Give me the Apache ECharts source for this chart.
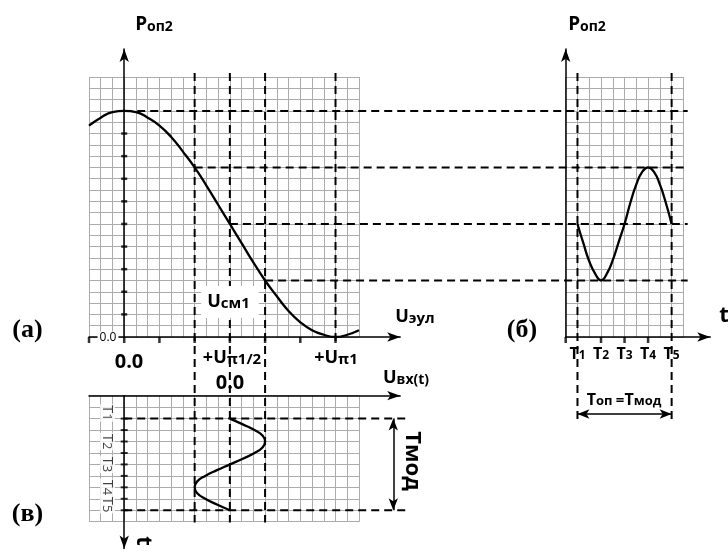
<!DOCTYPE html>
<html><head><meta charset="utf-8">
<script src="https://cdn.jsdelivr.net/npm/echarts@6/dist/echarts.min.js"></script>
<style>html,body{margin:0;padding:0;background:#fff}#c{width:728px;height:556px}</style>
</head><body><div id="c"></div>
<script>
// ---------------- data (in grid-cell units) ----------------
// (а) transfer characteristic Роп2(Uэул)
const uTransfer = [-3,-2,-1,0,1,2,3,4,5,6,7,8,9,10,11,12,13,14,15,16,17,18,19,20];
const pTransfer = [18.7,19.4,19.9,20,19.9,19.4,18.7,17.7,16.4,15,13.4,11.7,10,8.3,6.6,5,3.6,2.3,1.3,0.6,0.2,0,0.2,0.6];
// (б) output optical power vs time
const tOutput = [1,1.5,2,2.5,3,3.5,4,4.5,5,5.5,6,6.5,7,7.5,8,8.5,9];
const pOutput = [10,8.3,6.7,5.6,5,5.6,6.8,8.4,10,11.9,13.5,14.6,15,14.6,13.5,11.9,10];
// (в) input modulating voltage vs time
const tInput = [2,2.5,3,3.5,4,4.5,5,5.5,6,6.5,7,7.5,8,8.5,9,9.5,10];
const uInput = [9,10.1,11.1,11.8,12,11.8,11.1,10.1,9,7.9,6.9,6.2,6,6.2,6.9,7.9,9];
// projection levels
const pLevels = [20, 15, 10, 5];
const pLevelStartU = [0, 6, 9, 12];
const uLevels = [6, 9, 12];
const uPi = 18;
// ticks & labels
const yTicksA = [2,4,6,8,10,12,14,16,18];
const xTicksA = [-3,0,3,6,9,12,15,18];
const tTimesB = [1,3,5,7,9];
const tTicksB = [0,3,5,7];
const tLabels = ['T1','T2','T3','T4','T5'];
const tTicksV = [2,3,4,5,6,7,8,9,10];
const tEdgesV = [2,10];
const tLabelPosV = [1.5,4,6,8,9.5];

// ---------------- layout ----------------
const FONT = "'Open Sans','DejaVu Sans',sans-serif";
const SERIF = "'Liberation Serif','DejaVu Serif',serif";
const GRIDC = '#ababab';
const CW = 270/23, CH = 260/23, CWB = 117.7/10, CHV = 126/11;
const A_TOPMAX = 25.48, A_RIGHTMAX = 23.51, B_RIGHTMAX = 12.28, V_BOTMAX = 13.34;
const FAR_U = 48, FAR_P = -16.5;
const DASH_TOP = 23.36, DASH_BOT_A = -16.42, DASH_BOT_PI = -0.8;
const DASH_BOT_B = -7.7, DASH_RIGHT_V = 24.17, ARROW_U_V = 22.92, ARROW_P_B = -6.81;

const DASH = {color:'#000', width:2, type:[8,5]};
const AXL = {color:'#000', width:1.5};

function cellAxis(gi, min, max, inverse){
  return {type:'value', gridIndex:gi, min, max, interval:1, inverse:!!inverse,
    axisLine:{show:false}, axisTick:{show:false}, axisLabel:{show:false},
    splitLine:{show:true, lineStyle:{color:GRIDC, width:1}}};
}
function arrowAxis(gi, min, max, inverse, extra){
  return Object.assign({type:'value', gridIndex:gi, min, max, inverse:!!inverse,
    axisLine:{show:true, onZero:true, symbol:inverse ? ['arrow','none'] : ['none','arrow'], symbolSize:[7,13], lineStyle:AXL},
    axisTick:{show:false}, axisLabel:{show:false}, splitLine:{show:false}}, extra||{});
}
function hiddenAxis(gi, min, max, inverse){ return {type:'value', gridIndex:gi, min, max, inverse:!!inverse, show:false, splitLine:{show:false}}; }

const grids = [
  {left:89, top:77, width:270, height:260},                                               //0 (а) cells
  {left:89, top:337-A_TOPMAX*CH, width:(A_RIGHTMAX+3)*CW, height:A_TOPMAX*CH},           //1 (а) axes
  {left:565.7, top:77, width:117.7, height:260},                                          //2 (б) cells
  {left:565.7, top:337-A_TOPMAX*CH, width:B_RIGHTMAX*CWB, height:A_TOPMAX*CH},            //3 (б) axes
  {left:565.7, top:337-A_TOPMAX*CH, width:B_RIGHTMAX*CWB, height:(A_TOPMAX+8)*CH},        //4 (б) overlay
  {left:89, top:395.7, width:270, height:126},                                            //5 (в) cells
  {left:89, top:395.7, width:(A_RIGHTMAX+3)*CW, height:V_BOTMAX*CHV},                     //6 (в) axes
  {left:89, top:337-A_TOPMAX*CH, width:(FAR_U+3)*CW, height:(A_TOPMAX-FAR_P)*CH},         //7 (а) projection overlay
  {left:89, top:395.7, width:(FAR_U+3)*CW, height:V_BOTMAX*CHV}                           //8 (в) overlay
];

const xAxes = [
  cellAxis(0, -3, 20),
  arrowAxis(1, -3, A_RIGHTMAX),
  cellAxis(2, 0, 10),
  arrowAxis(3, 0, B_RIGHTMAX, false, {interval:1, axisLabel:{show:true, margin:9, color:'#000',
    fontFamily:FONT, fontWeight:'bold', fontSize:16,
    formatter: v => { const i = tTimesB.indexOf(v); return i>=0 ? '{m|'+tLabels[i][0]+'}{s|'+tLabels[i].slice(1)+'}' : ''; },
    rich:{m:{fontSize:16, fontWeight:'bold', fontFamily:FONT, color:'#000', verticalAlign:'bottom', lineHeight:16},
          s:{fontSize:12, fontWeight:'bold', fontFamily:FONT, color:'#000', verticalAlign:'bottom', lineHeight:16}}}}),
  hiddenAxis(4, 0, B_RIGHTMAX),
  cellAxis(5, -3, 20),
  arrowAxis(6, -3, A_RIGHTMAX),
  hiddenAxis(7, -3, FAR_U),
  hiddenAxis(8, -3, FAR_U)
];
const yAxes = [
  cellAxis(0, 0, 23),
  arrowAxis(1, 0, A_TOPMAX),
  cellAxis(2, 0, 23),
  arrowAxis(3, 0, A_TOPMAX),
  hiddenAxis(4, -8, A_TOPMAX),
  cellAxis(5, 0, 11, true),
  arrowAxis(6, 0, V_BOTMAX, true),
  hiddenAxis(7, FAR_P, A_TOPMAX),
  hiddenAxis(8, 0, V_BOTMAX, true)
];

const base = {type:'line', showSymbol:false, clip:false, silent:true, animation:false};
const series = [];
// (а) curve
series.push(Object.assign({}, base, {xAxisIndex:1, yAxisIndex:1, smooth:true, z:5,
  lineStyle:{color:'#000', width:2.3}, data:uTransfer.map((u,i)=>[u,pTransfer[i]])}));
// (а) horizontal projections to (б)
pLevels.forEach((p,i)=>series.push(Object.assign({}, base, {xAxisIndex:7, yAxisIndex:7, lineStyle:DASH,
  data:[[pLevelStartU[i], p],[FAR_U, p]]})));
// (а)/(в) vertical projections
uLevels.forEach(u=>series.push(Object.assign({}, base, {xAxisIndex:7, yAxisIndex:7, lineStyle:DASH,
  data:[[u, DASH_TOP],[u, DASH_BOT_A]]})));
series.push(Object.assign({}, base, {xAxisIndex:7, yAxisIndex:7, lineStyle:DASH, data:[[uPi, DASH_TOP],[uPi, DASH_BOT_PI]]}));
// (а) ticks
series.push({type:'scatter', xAxisIndex:1, yAxisIndex:1, symbol:'rect', symbolSize:[6,2.5], silent:true, clip:false,
  itemStyle:{color:'#000'}, data:yTicksA.map(p=>[0,p]), z:6});
series.push({type:'scatter', xAxisIndex:1, yAxisIndex:1, symbol:'rect', symbolSize:[2.5,6], symbolOffset:[0,3], silent:true, clip:false,
  itemStyle:{color:'#000'}, data:xTicksA.map(u=>[u,0]), z:6});
// (б) curve
series.push(Object.assign({}, base, {xAxisIndex:3, yAxisIndex:3, smooth:true, z:5,
  lineStyle:{color:'#000', width:2.3}, data:tOutput.map((t,i)=>[t,pOutput[i]])}));
// (б) vertical dashes at T1 and T5 + period arrow
[tTimesB[0], tTimesB[4]].forEach((t,k)=>series.push(Object.assign({}, base, {xAxisIndex:4, yAxisIndex:4, lineStyle:DASH,
  data:[[t, DASH_TOP],[t, DASH_BOT_B]],
  markLine: k===0 ? {silent:true, symbol:['arrow','arrow'], symbolSize:[7,12], label:{show:false},
    lineStyle:{color:'#000', width:1.5, type:'solid'}, data:[[{coord:[tTimesB[0], ARROW_P_B]},{coord:[tTimesB[4], ARROW_P_B]}]]} : undefined})));
series.push({type:'scatter', xAxisIndex:3, yAxisIndex:3, symbol:'rect', symbolSize:[2.5,6], symbolOffset:[0,3], silent:true, clip:false,
  itemStyle:{color:'#000'}, data:tTicksB.map(t=>[t,0]), z:6});
// (в) curve
series.push(Object.assign({}, base, {xAxisIndex:6, yAxisIndex:6, smooth:true, z:5,
  lineStyle:{color:'#000', width:2.3}, data:tInput.map((t,i)=>[uInput[i],t])}));
// (в) horizontal dashes at T1, T5 + Tмод arrow
tEdgesV.forEach((t,k)=>series.push(Object.assign({}, base, {xAxisIndex:8, yAxisIndex:8, lineStyle:DASH,
  data:[[0,t],[DASH_RIGHT_V,t]],
  markLine: k===0 ? {silent:true, symbol:['arrow','arrow'], symbolSize:[7,12], label:{show:false},
    lineStyle:{color:'#000', width:1.5, type:'solid'}, data:[[{coord:[ARROW_U_V, tEdgesV[0]]},{coord:[ARROW_U_V, tEdgesV[1]]}]]} : undefined})));
series.push({type:'scatter', xAxisIndex:6, yAxisIndex:6, symbol:'rect', symbolSize:[7,2], silent:true, clip:false,
  itemStyle:{color:'#000'}, data:tTicksV.map(t=>[0,t]), z:6});
// (в) rotated T labels
series.push({type:'scatter', xAxisIndex:6, yAxisIndex:6, symbolSize:0, silent:true, clip:false, z:7,
  data:tLabelPosV.map((t,i)=>({value:[-1.42,t], name:tLabels[i]})),
  label:{show:true, position:'inside', rotate:-90, backgroundColor:'#fff', padding:[0,1],
    formatter: p => '{m|'+p.name[0]+'}{s|'+p.name.slice(1)+'}',
    rich:{m:{fontSize:15, fontFamily:FONT, fontWeight:500, color:'#111', verticalAlign:'bottom', lineHeight:15},
          s:{fontSize:13, fontFamily:FONT, fontWeight:500, color:'#111', verticalAlign:'bottom', lineHeight:15}}}});

// ---------------- texts ----------------
function rt(big, small){ return {a:{fontSize:big, fontWeight:'bold', fontFamily:FONT, fill:'#000', verticalAlign:'bottom', lineHeight:big},
                                  b:{fontSize:small, fontWeight:'bold', fontFamily:FONT, fill:'#000', verticalAlign:'bottom', lineHeight:small},
                                  c:{fontSize:small+2, fontWeight:'bold', fontFamily:FONT, fill:'#000', verticalAlign:'bottom', lineHeight:small+2}}; }
function txt(x, y, text, opt){
  opt = opt || {};
  return {type:'text', x, y, z:100, rotation:opt.rot||0, silent:true,
    style:Object.assign({text, align:'center', verticalAlign:'middle', fill:'#000',
      fontFamily:opt.family||FONT, fontWeight:'bold', fontSize:opt.size||18}, opt.style||{})};
}
const graphic = [
  txt(154, 25, '{a|Р}{b|оп2}', {style:{rich:rt(19,14)}}),
  txt(587, 25, '{a|Р}{b|оп2}', {style:{rich:rt(19,14)}}),
  txt(27.5, 330, '(а)', {family:SERIF, size:26}),
  txt(522, 330, '(б)', {family:SERIF, size:26}),
  txt(27.5, 514, '(в)', {family:SERIF, size:26}),
  txt(415, 317, '{a|U}{b|эул}', {style:{rich:rt(18,15)}}),
  txt(108, 337.5, '0.0', {size:12, style:{backgroundColor:'#fff', padding:[0,2], fontWeight:'normal'}}),
  txt(129, 362, '0.0', {size:20}),
  txt(232, 358, '{a|+U}{b|π1/2}', {style:{rich:rt(18,15)}}),
  txt(336, 358, '{a|+U}{b|π1}', {style:{rich:rt(18,15)}}),
  txt(230, 302, '{a|U}{b|см1}', {style:{rich:rt(18,15), backgroundColor:'#fff', padding:[7,9,7,6]}}),
  txt(230, 383, '0.0', {size:20}),
  txt(406, 378, '{a|U}{b|вх(t)}', {style:{rich:rt(18,14)}}),
  txt(412.5, 461, 'Тмод', {size:22, rot:-Math.PI/2}),
  txt(143, 541, 't', {size:22, rot:-Math.PI/2}),
  txt(724, 316, 't', {size:22}),
  txt(624, 400, '{a|Т}{b|оп }{c|=}{a|Т}{b|мод}', {style:{rich:rt(16,13)}})
];

const chart = echarts.init(document.getElementById('c'), null, {renderer:'canvas'});
chart.setOption({animation:false, backgroundColor:'#fff', grid:grids, xAxis:xAxes, yAxis:yAxes, series, graphic});
</script></body></html>
